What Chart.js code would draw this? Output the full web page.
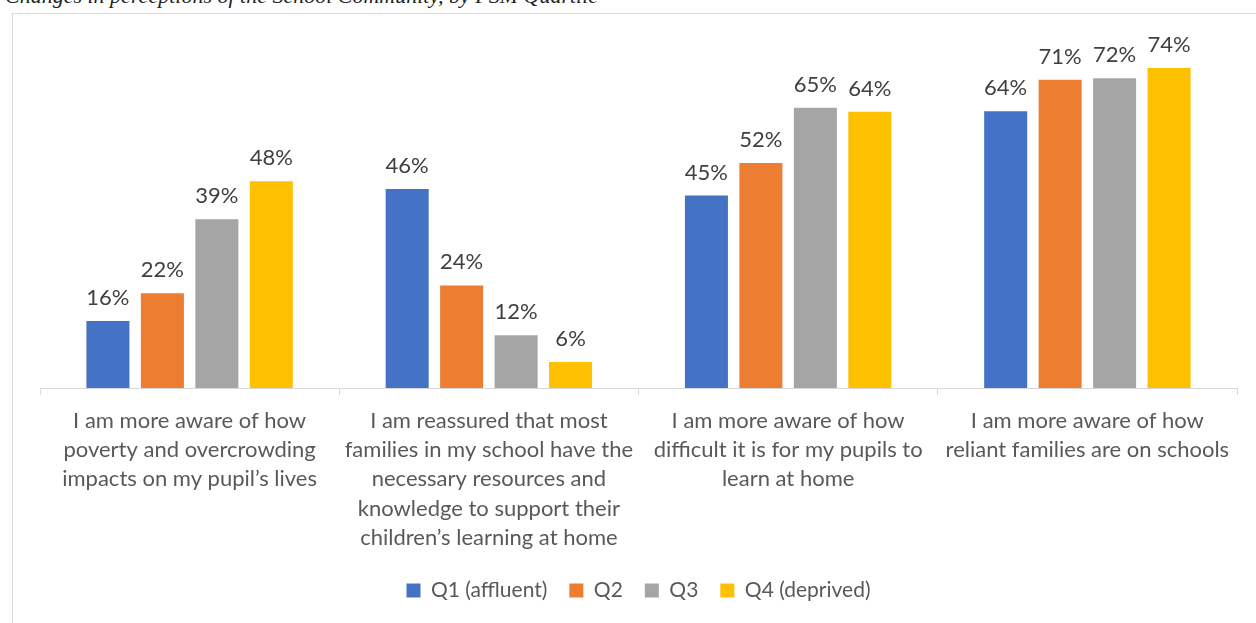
<!DOCTYPE html>
<html>
<head>
<meta charset="utf-8">
<script src="https://cdn.jsdelivr.net/npm/chart.js@4/dist/chart.umd.min.js"></script>
<style>
  html, body { margin: 0; padding: 0; background: #fff; overflow: hidden; }
  #wrap { position: relative; width: 1256px; height: 623px; overflow: hidden; }
  #frame { position: absolute; left: 12px; top: 13px; width: 1300px; height: 700px; border: 1px solid #d9d9d9; }
  #title { position: absolute; left: 5px; top: -17px; font: italic 22px "Liberation Serif", serif; color: #222; white-space: nowrap; }
  #c { position: absolute; left: 0; top: 0; }
</style>
</head>
<body>
<div id="wrap">
  <div id="title">Changes in perceptions of the School Community, by FSM Quartile</div>
  <div id="frame"></div>
  <canvas id="c" width="1256" height="623"></canvas>
</div>
<script>
// categories (pre-wrapped like the original labels)
const categories = [
  ["I am more aware of how", "poverty and overcrowding", "impacts on my pupil\u2019s lives"],
  ["I am reassured that most", "families in my school have the", "necessary resources and", "knowledge to support their", "children\u2019s learning at home"],
  ["I am more aware of how", "difficult it is for my pupils to", "learn at home"],
  ["I am more aware of how", "reliant families are on schools"]
];
const seriesNames = ["Q1 (affluent)", "Q2", "Q3", "Q4 (deprived)"];
const q1 = [15.5, 46, 44.5, 64];
const q2 = [21.9, 23.7, 52, 71.3];
const q3 = [39, 12.2, 64.8, 71.6];
const q4 = [47.8, 6, 63.9, 74];
const colors = ["#4472c4", "#ed7d31", "#a5a5a5", "#ffc000"];

const FONT = "Lato";

const barLabels = {
  id: "barLabels",
  afterDatasetsDraw(chart) {
    const ctx = chart.ctx;
    ctx.save();
    ctx.font = "22px " + FONT;
    ctx.fillStyle = "#404040";
    ctx.textAlign = "center";
    ctx.textBaseline = "alphabetic";
    chart.data.datasets.forEach((ds, i) => {
      chart.getDatasetMeta(i).data.forEach((bar, j) => {
        ctx.fillText(Math.round(ds.data[j]) + "%", bar.x, bar.y - 16);
      });
    });
    ctx.restore();
  }
};

new Chart(document.getElementById("c"), {
  type: "bar",
  data: {
    labels: categories,
    datasets: [q1, q2, q3, q4].map((d, i) => ({
      label: seriesNames[i],
      data: d,
      backgroundColor: colors[i],
      categoryPercentage: 0.728,
      barPercentage: 0.79
    }))
  },
  options: {
    responsive: false,
    animation: false,
    layout: { padding: { left: 40, right: 19, top: 42, bottom: 12 } },
    scales: {
      y: { display: false, min: 0, max: 80 },
      x: {
        border: { color: "#d9d9d9", width: 1 },
        grid: { display: true, drawOnChartArea: false, drawTicks: true, tickLength: 7, offset: true, color: "#d9d9d9" },
        ticks: { color: "#595959", font: { family: FONT, size: 22, lineHeight: 1.33 }, padding: 11, maxRotation: 0, autoSkip: false },
        afterFit(s) { s.height = 170; }
      }
    },
    plugins: {
      tooltip: { enabled: false },
      legend: {
        position: "bottom",
        labels: { color: "#595959", boxWidth: 14, boxHeight: 14, padding: 22, font: { family: FONT, size: 21 } }
      }
    }
  },
  plugins: [barLabels]
});
</script>
</body>
</html>
